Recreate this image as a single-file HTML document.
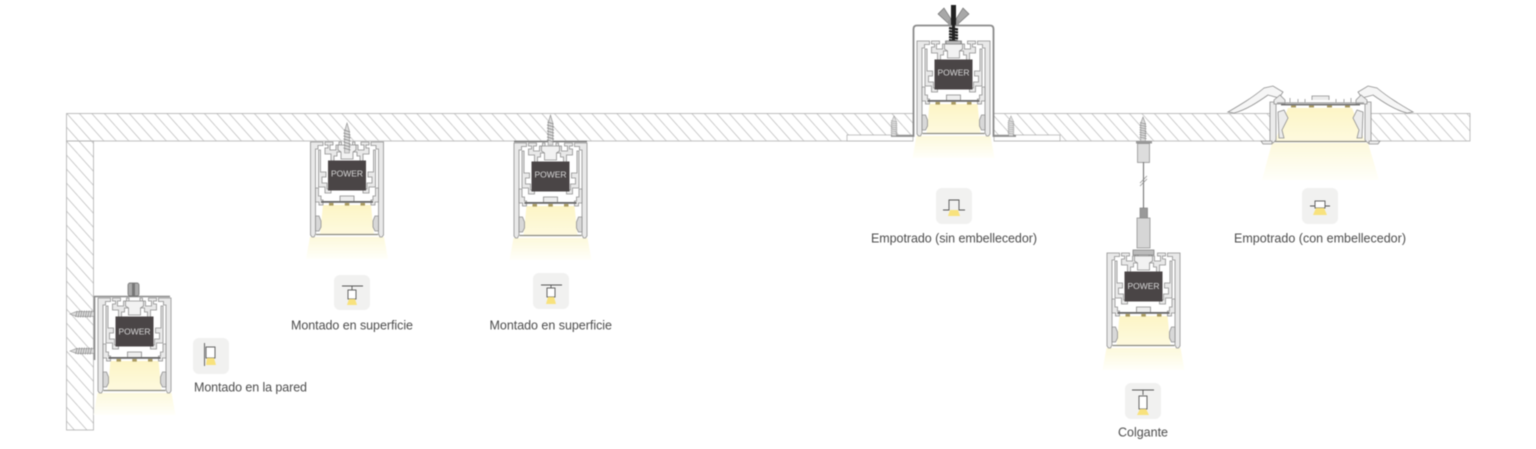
<!DOCTYPE html>
<html><head><meta charset="utf-8"><style>
html,body{margin:0;padding:0;background:#fff;width:1536px;height:449px;overflow:hidden}
svg{display:block;filter:blur(.4px)}
text{font-family:"Liberation Sans",sans-serif}
.l{font-size:12.5px;fill:#4c4c4c}
.w{font-size:8.5px;fill:#d8d8d8;text-anchor:middle}
</style></head><body>
<svg width="1536" height="449" viewBox="0 0 1536 449" xmlns="http://www.w3.org/2000/svg">
<defs>
<pattern id="h" patternUnits="userSpaceOnUse" width="12.5" height="14" patternTransform="translate(3,0)">
<path d="M0,0L12.5,14M-2,12L0,14M12.5,0L14.5,2" stroke="#c2c2c2" stroke-width=".8" fill="none"/>
</pattern>
<linearGradient id="lg" x1="0" y1="0" x2="0" y2="1"><stop offset="0" stop-color="#fdf5c6"/><stop offset="1" stop-color="#fefadf"/></linearGradient>
<linearGradient id="gg" x1="0" y1="0" x2="0" y2="1"><stop offset="0" stop-color="#fdf9dc"/><stop offset="1" stop-color="#fffffa"/></linearGradient>
<g id="half" fill="#e9e9e9" stroke="#8f8f8f" stroke-width=".8">
<path d="M-36.5 0H-24V3.500H-29V7H-31.500V92L-33 95H-35L-36.500 93Z"/>
<path d="M-28.500 8H-26.500V30H-21V35H-25V41H-20V47H-16V51H-22V45H-28.500Z"/>
<path d="M-31.500 46H-28.500V54H-26V58H-24V63H-28V60H-31.500Z"/>
<path d="M-22 0H-14V3H-17V8H-11V3H-8V0H-5.500V10H-10V14H-13V20H-16V12H-22V6H-19V3H-22Z"/>
<path d="M-31.500 74H-28L-26 79V85L-28 89H-31.500Z" fill="#d8d8d8"/>
</g>
<g id="prof">
<path d="M-37 95H37L41 117H-41Z" fill="url(#gg)"/>
<path d="M-24 63H24L27 92H-27Z" fill="url(#lg)"/>
<use href="#half"/><use href="#half" transform="scale(-1,1)"/>
<path d="M-9 3H9V8L6 10V17H-6V10L-9 8Z" fill="#f2f2f2" stroke="#8f8f8f" stroke-width=".8"/>
<rect x="-19" y="18.500" width="38" height="30" fill="#4a4546"/>
<path d="M-7 59V54H7V59" fill="#eee" stroke="#888" stroke-width=".8"/>
<rect x="-26" y="59" width="52" height="1.800" fill="#666"/>
<rect x="-18" y="61" width="4.500" height="2.600" fill="#a8995f"/><rect x="-2.200" y="61" width="4.500" height="2.600" fill="#a8995f"/><rect x="13.500" y="61" width="4.500" height="2.600" fill="#a8995f"/>
<path d="M-31 92.500H31" stroke="#8a8a80" stroke-width="1.300"/>
</g>
<g id="scr">
<path d="M0 0L2.400 8V30H-2.400V8Z" fill="#dcdcdc" stroke="#8c8c8c" stroke-width=".6"/>
<path d="M-3 7L3 9M-3.500 10L3.500 12M-3.500 13L3.500 15M-3.500 16L3.500 18M-3.500 19L3.500 21M-3.500 22L3.500 24M-3.500 25L3.500 27" stroke="#888" stroke-width=".8"/>
</g>
</defs>
<rect width="1536" height="449" fill="#fff"/>

<!-- ceiling and wall -->
<rect x="66.500" y="113.500" width="1403.500" height="27.500" fill="url(#h)" stroke="#b0b0b0" stroke-width=".8"/>
<rect x="66.500" y="141" width="27" height="289" fill="url(#h)" stroke="#b0b0b0" stroke-width=".8"/>
<rect x="913" y="112" width="81" height="30" fill="#fff"/>
<rect x="1271" y="112" width="100" height="30" fill="#fff"/>
<rect x="847" y="135" width="66" height="6" fill="#fff" stroke="#aaa" stroke-width=".7"/>
<rect x="994" y="135" width="66" height="6" fill="#fff" stroke="#aaa" stroke-width=".7"/>

<!-- A wall -->
<g transform="translate(134.500,298)"><use href="#prof"/><text class="w" y="36.500">POWER</text></g>
<path d="M94.500 360V296.500H170" fill="none" stroke="#8a8a8a" stroke-width="1.600"/>
<rect x="128" y="283" width="11" height="13" rx="2" fill="#aaa" stroke="#666" stroke-width=".7"/>
<rect x="132" y="283" width="3" height="13" fill="#777"/>
<use href="#scr" transform="translate(70,314) rotate(-90) scale(1,.8)"/>
<use href="#scr" transform="translate(70,351) rotate(-90) scale(1,.8)"/>

<!-- B surface -->
<g transform="translate(347,142)"><use href="#prof"/><text class="w" y="34.500">POWER</text></g>
<use href="#scr" transform="translate(347,123)"/>

<!-- C surface -->
<g transform="translate(550.500,143)"><use href="#prof"/><text class="w" y="34.500">POWER</text></g>
<path d="M514 141.500H587" stroke="#777" stroke-width="1.400"/>
<use href="#scr" transform="translate(550.500,115)"/>

<!-- D recessed -->
<g transform="translate(953.500,41)"><use href="#prof"/><text class="w" y="34.500">POWER</text></g>
<path d="M891 136H913.500V29Q913.500 25.500 917 25.500H990Q993.500 25.500 993.500 29V136H1016" fill="none" stroke="#8a8a8a" stroke-width="1.800"/>
<use href="#scr" transform="translate(894,116) scale(1,.67)" opacity=".8"/>
<use href="#scr" transform="translate(1011,116) scale(1,.67)" opacity=".8"/>
<path d="M938 14L944 8L951 19L949 24ZM969 14L963 8L956 19L958 24Z" fill="#a8a8a8" stroke="#666" stroke-width=".6"/>
<rect x="948" y="20" width="11" height="5" fill="#999"/>
<rect x="951" y="5" width="5" height="20" fill="#222"/>
<path d="M949 28L958 29.500M949 31L958 32.500M949 34L958 35.500M949 37L958 38.500M949 40L958 41.500" stroke="#222" stroke-width="2.200"/>
<rect x="952" y="25" width="3" height="16" fill="#222"/>
<rect x="946" y="41" width="15" height="3" fill="#bbb" stroke="#777" stroke-width=".6"/>

<!-- E pendant -->
<use href="#scr" transform="translate(1143,117) scale(1,.8)"/>
<rect x="1136" y="141" width="16" height="2.500" fill="#999"/>
<rect x="1137.500" y="143.500" width="12" height="19" fill="#ddd" stroke="#888" stroke-width=".7"/>
<path d="M1143.500 162V209" stroke="#777" stroke-width="1.100"/>
<path d="M1140 183L1147 176M1140 186L1147 179" stroke="#888" stroke-width=".7"/>
<rect x="1140" y="208" width="7.500" height="10" fill="#999" stroke="#777" stroke-width=".6"/>
<rect x="1137" y="218" width="13" height="30" fill="#d6d6d6" stroke="#888" stroke-width=".7"/>
<g transform="translate(1143.500,253)"><use href="#prof"/><text class="w" y="36">POWER</text></g>
<rect x="1133" y="250" width="21" height="5" fill="#bbb" stroke="#777" stroke-width=".7"/>

<!-- F recessed with trim -->
<path d="M1272 143H1368L1379 180H1262Z" fill="url(#gg)"/>
<path d="M1288 108H1352L1365 141H1275Z" fill="url(#lg)"/>
<g fill="#ececec" stroke="#8f8f8f" stroke-width=".8">
<path d="M1270 102H1276V140L1273 143H1270Z"/><path d="M1371 102H1365V140L1368 143H1371Z"/>
<path d="M1278 112L1284 110L1288 118L1282 130L1284 138H1279Z"/><path d="M1363 112L1357 110L1353 118L1359 130L1357 138H1362Z"/>
<path d="M1228 112C1240 105 1252 98 1264 88L1273 86L1283 92L1279 98L1268 95C1258 102 1246 110 1234 113Z" fill="#f6f6f6"/>
<path d="M1413 112C1401 105 1389 98 1377 88L1368 86L1358 92L1362 98L1373 95C1383 102 1395 110 1407 113Z" fill="#f6f6f6"/>
<path d="M1274 100L1280 95L1285 100V104H1274ZM1367 100L1361 95L1356 100V104H1367Z"/>
<path d="M1312 100V96H1329V100" />
<path d="M1261 141H1272V144H1263ZM1380 141H1369V144H1378Z"/>
</g>
<path d="M1277 103H1364" stroke="#9b9b9b" stroke-width="1.200"/>
<path d="M1290 98V103M1298 99V103M1305 99V103M1336 99V103M1344 99V103M1351 98V103" stroke="#aaa" stroke-width="1"/>
<rect x="1281" y="104" width="79" height="1.400" fill="#666"/>
<path d="M1291 105.500h5v2h-5zM1309 105.500h5v2h-5zM1327 105.500h5v2h-5zM1345 105.500h5v2h-5z" fill="#a8995f"/>
<path d="M1275 141.500H1366" stroke="#8a8a80" stroke-width="1.200"/>

<!-- icons -->
<g fill="#f1f1f0">
<rect x="193" y="338" width="36" height="36" rx="6"/><rect x="334" y="275" width="36" height="35" rx="6"/><rect x="533" y="273" width="36" height="36" rx="6"/>
<rect x="936" y="188" width="36" height="36" rx="6"/><rect x="1125" y="383" width="36" height="36" rx="6"/><rect x="1302" y="188" width="36" height="36" rx="6"/>
</g>
<g fill="none" stroke="#555" stroke-width=".9">
<path d="M204.500 343V366"/><rect x="206" y="347" width="9" height="11" fill="#fff"/>
<path d="M342 286H363M352 286V290"/><rect x="348" y="290" width="8" height="9" fill="#fff"/>
<path d="M541 285H562M551 285V288"/><rect x="547" y="288" width="8" height="9" fill="#fff"/>
<path d="M943 210H949V200H959V210H965"/>
<path d="M1132 390H1154M1143 390V395"/><rect x="1139" y="396" width="8" height="13" fill="#fff"/>
<path d="M1310 206H1330"/><rect x="1315" y="201" width="10" height="7" fill="#fff"/>
</g>
<g fill="#f8e27d">
<path d="M207 358H214L216 365H206Z"/><path d="M349 299H355L357 305H347Z"/><path d="M548 297H554L556 304H546Z"/>
<path d="M950 210H958L960 216H948Z"/><path d="M1140 409H1146L1149 415H1137Z"/><path d="M1316 208H1324L1327 215H1313Z"/>
</g>

<!-- labels -->
<text class="l" x="194" y="391.500" textLength="113">Montado en la pared</text>
<text class="l" x="291" y="329.500" textLength="122">Montado en superficie</text>
<text class="l" x="489.500" y="329.500" textLength="122.500">Montado en superficie</text>
<text class="l" x="871" y="242.500" textLength="166">Empotrado (sin embellecedor)</text>
<text class="l" x="1234" y="242.500" textLength="172">Empotrado (con embellecedor)</text>
<text class="l" x="1118" y="436.500" textLength="50">Colgante</text>
</svg>
</body></html>
